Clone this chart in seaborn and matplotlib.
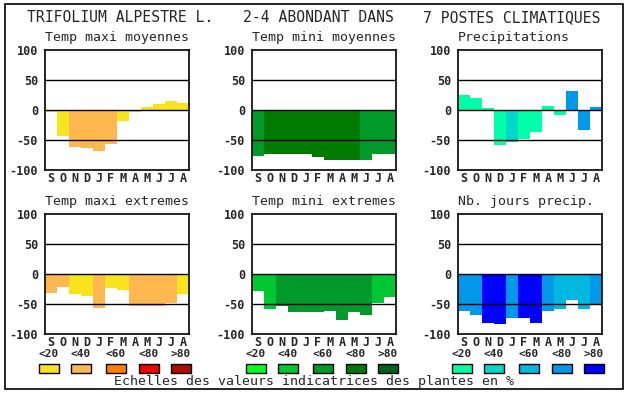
import numpy as np
import seaborn as sns
import matplotlib.pyplot as plt
from matplotlib.patches import Rectangle

# month labels (Sept -> Aug)
months = ["S", "O", "N", "D", "J", "F", "M", "A", "M", "J", "J", "A"]
levels = ["<20", "<40", "<60", "<80", ">80"]

# colour scales (5 classes each)
warm = ["#F8E41C", "#FFB850", "#FF8000", "#F00000", "#B00C00"]
green = ["#00FF20", "#00C832", "#009A2A", "#007A00", "#006020"]
blue = ["#00FFA8", "#00D8C8", "#00B8E0", "#0098E8", "#0000FF"]

# values per panel + class index of each bar
temp_maxi_moy = [-4, -43, -61, -64, -68, -57, -18, -4, 5, 10, 15, 12]
temp_maxi_moy_cls = [0, 0, 1, 1, 1, 1, 0, 0, 0, 0, 0, 0]

temp_mini_moy = [-76, -74, -73, -73, -74, -78, -84, -84, -83, -83, -74, -73]
temp_mini_moy_cls = [2, 3, 3, 3, 3, 3, 3, 3, 3, 2, 2, 2]

precip = [25, 20, 3, -58, -54, -49, -36, 7, -8, 32, -34, 5]
precip_cls = [0, 0, 0, 0, 1, 0, 0, 0, 0, 3, 3, 3]

temp_maxi_ext = [-31, -21, -33, -36, -56, -24, -26, -54, -54, -53, -48, -34]
temp_maxi_ext_cls = [1, 1, 0, 0, 1, 0, 0, 1, 1, 1, 1, 0]

temp_mini_ext = [-28, -58, -53, -63, -63, -64, -61, -76, -64, -68, -49, -38]
temp_mini_ext_cls = [1, 1, 2, 2, 2, 2, 2, 2, 2, 2, 1, 1]

nb_jours = [-61, -68, -81, -84, -74, -74, -81, -61, -58, -43, -58, -51]
nb_jours_cls = [3, 3, 4, 4, 3, 4, 4, 3, 2, 2, 2, 3]

panels = [
    ("Temp maxi moyennes", temp_maxi_moy, temp_maxi_moy_cls, warm, 45, 50),
    ("Temp mini moyennes", temp_mini_moy, temp_mini_moy_cls, green, 252, 50),
    ("Precipitations", precip, precip_cls, blue, 458, 50),
    ("Temp maxi extremes", temp_maxi_ext, temp_maxi_ext_cls, warm, 45, 214),
    ("Temp mini extremes", temp_mini_ext, temp_mini_ext_cls, green, 252, 214),
    ("Nb. jours precip.", nb_jours, nb_jours_cls, blue, 458, 214),
]

W, H = 630, 394
sns.set_style("white")
plt.rcParams["font.family"] = ["DejaVu Sans Mono", "DejaVu Sans"]


def fx(x):
    return x / W


def fy(y):
    return 1 - y / H


fig = plt.figure(figsize=(W / 100, H / 100), dpi=100)
fig.patch.set_facecolor("white")

x_idx = np.arange(12)
for title, vals, cls, pal, left, top in panels:
    ax = fig.add_axes([fx(left), fy(top + 120), 144 / W, 120 / H])
    sns.barplot(x=x_idx, y=vals, hue=x_idx, palette=[pal[c] for c in cls],
                width=1.0, saturation=1, legend=False, linewidth=0, ax=ax)
    for yv in (-50, 0, 50):
        ax.axhline(yv, color="black", lw=1.0, zorder=3)
    ax.set_xlim(-0.5, 11.5)
    ax.set_ylim(-100, 100)
    ax.set_yticks([-100, -50, 0, 50, 100])
    ax.set_yticklabels(["-100", "-50", "0", "50", "100"], fontweight="bold", fontsize=8.5)
    ax.set_xticks(x_idx)
    ax.set_xticklabels(months, fontweight="bold", fontsize=8.5)
    ax.tick_params(axis="x", length=0, pad=1.5)
    ax.tick_params(axis="y", length=0, pad=5)
    ax.set_xlabel("")
    ax.set_ylabel("")
    for s in ax.spines.values():
        s.set_color("black")
        s.set_linewidth(1.2)
        s.set_zorder(4)
    fig.text(fx(left), fy(top - 12), title, ha="left", va="center", fontsize=9.5)

# class legends under bottom row
for pal, left in ((warm, 45), (green, 252), (blue, 458)):
    offs = [0, 32, 67, 100, 132]
    for lab, col, o in zip(levels, pal, offs):
        x0 = left - 6 + o
        fig.add_artist(Rectangle((fx(x0), fy(373)), 20 / W, 9 / H,
                                 transform=fig.transFigure, facecolor=col,
                                 edgecolor="black", lw=1.0))
        fig.text(fx(x0 + 10), fy(354), lab, ha="center", va="center",
                 fontsize=8, fontweight="bold")

# header
fig.text(fx(27), fy(18), "TRIFOLIUM ALPESTRE L.", ha="left", va="center", fontsize=10.6)
fig.text(fx(243), fy(18), "2-4 ABONDANT DANS", ha="left", va="center", fontsize=10.6)
fig.text(fx(423), fy(18), "7 POSTES CLIMATIQUES", ha="left", va="center", fontsize=10.6)
fig.text(fx(314), fy(382), "Echelles des valeurs indicatrices des plantes en %",
         ha="center", va="center", fontsize=9.5)

# outer frame
fig.add_artist(Rectangle((fx(5), fy(389)), 618 / W, 385 / H, transform=fig.transFigure,
                         fill=False, edgecolor="black", lw=1.2))

fig.savefig("out.png", dpi=100)
